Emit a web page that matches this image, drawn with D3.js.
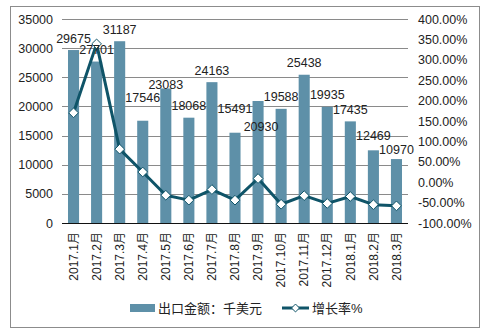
<!DOCTYPE html>
<html><head><meta charset="utf-8">
<script src="https://cdn.jsdelivr.net/npm/d3@7"></script>
<style>
html,body{margin:0;padding:0;background:#fff;}
text{font-family:"Liberation Sans",Arial,"Noto Sans CJK SC",sans-serif;fill:#222;}
</style></head>
<body>
<svg id="c" width="492" height="335"></svg>
<script>
const categories = ["2017.1月","2017.2月","2017.3月","2017.4月","2017.5月","2017.6月","2017.7月","2017.8月","2017.9月","2017.10月","2017.11月","2017.12月","2018.1月","2018.2月","2018.3月"];
const exportValues = [29675,27701,31187,17546,23083,18068,24163,15491,20930,19588,25438,19935,17435,12469,10970];
const growthRates = [170,339,81,25,-32,-44,-18,-44,9,-54,-33,-52,-35,-55,-58];
const leftTicks = [0,5000,10000,15000,20000,25000,30000,35000];
const rightTicks = [-100,-50,0,50,100,150,200,250,300,350,400];
const seriesNames = ["出口金额：千美元","增长率%"];
// manual label nudges (as in the source chart), pixels
const labelNudgeY = [0,0,0,-11,8,0,0,-12,37,0,0,0,0,-3,2];
const labelNudgeX = [0,0,0,0,0,0,0,0,3,0,0,0,0,0,0];

const barColor = "#5e90a8", lineColor = "#0f5468";
const svg = d3.select("#c");
const L = 62, R = 408, T = 19, B = 223;

svg.append("rect").attr("x",10.5).attr("y",6.5).attr("width",469).attr("height",321)
  .attr("fill","none").attr("stroke","#8c8c8c");

const x = d3.scaleBand().domain(categories).range([L,R]).paddingInner(0.52).paddingOuter(0.26);
const y = d3.scaleLinear().domain([0,35000]).range([B,T]);
const y2 = d3.scaleLinear().domain([-100,400]).range([B,T]);

// gridlines
svg.append("g").selectAll("line").data(leftTicks.filter(d=>d>0)).join("line")
  .attr("x1",L).attr("x2",R).attr("y1",d=>Math.round(y(d))+0.5).attr("y2",d=>Math.round(y(d))+0.5)
  .attr("stroke","#8a8a8a").attr("stroke-width",1);

// left axis
const ga = svg.append("g").attr("transform",`translate(${L},0)`)
  .call(d3.axisLeft(y).tickValues(leftTicks).tickSize(0).tickPadding(9).tickFormat(d3.format("d")));
ga.select(".domain").remove();
ga.selectAll("text").style("font-size","12.5px").attr("fill","#222");

// right axis
const gr = svg.append("g").attr("transform",`translate(${R},0)`)
  .call(d3.axisRight(y2).tickValues(rightTicks).tickSize(0).tickPadding(10).tickFormat(d=>d.toFixed(2)+"%"));
gr.select(".domain").remove();
gr.selectAll("text").style("font-size","12.5px").attr("fill","#222");

// bars
svg.append("g").selectAll("rect").data(exportValues).join("rect")
  .attr("x",(d,i)=>x(categories[i])).attr("width",x.bandwidth())
  .attr("y",d=>y(d)).attr("height",d=>B-y(d)).attr("fill",barColor);

// baseline
svg.append("line").attr("x1",L).attr("x2",R).attr("y1",B+0.5).attr("y2",B+0.5).attr("stroke","#111");

// x labels
const gx = svg.append("g").attr("transform",`translate(0,${B})`)
  .call(d3.axisBottom(x).tickSize(0).tickPadding(0));
gx.select(".domain").remove();
gx.selectAll("text").attr("transform","rotate(-90)").attr("text-anchor","end")
  .attr("x",-9).attr("y",0).attr("dy","0.35em").style("font-size","12px").attr("fill","#222");

// line
const cx = i => x(categories[i]) + x.bandwidth()/2;
const line = d3.line().x((d,i)=>cx(i)).y(d=>y2(d));
svg.append("path").datum(growthRates).attr("d",line).attr("fill","none")
  .attr("stroke",lineColor).attr("stroke-width",3).attr("stroke-linejoin","round");
const diamond = d3.symbol().type(d3.symbolDiamond2).size(60);
svg.append("g").selectAll("path").data(growthRates).join("path")
  .attr("d",diamond).attr("transform",(d,i)=>`translate(${cx(i)},${y2(d)})`)
  .attr("fill","#fff").attr("stroke",lineColor).attr("stroke-width",1);

// data labels
svg.append("g").selectAll("text").data(exportValues).join("text")
  .attr("x",(d,i)=>cx(i)+labelNudgeX[i]).attr("y",(d,i)=>y(d)-7.5+labelNudgeY[i]).attr("text-anchor","middle")
  .style("font-size","12.5px").text(d=>d);

// legend
const lg = svg.append("g");
lg.append("rect").attr("x",130).attr("y",304).attr("width",25).attr("height",8).attr("fill",barColor);
lg.append("text").attr("x",158).attr("y",308).attr("dy","0.35em").style("font-size","13px").text(seriesNames[0]);
lg.append("line").attr("x1",282).attr("x2",309).attr("y1",308).attr("y2",308).attr("stroke",lineColor).attr("stroke-width",3);
lg.append("path").attr("d",d3.symbol().type(d3.symbolDiamond2).size(40)).attr("transform","translate(295.5,308)")
  .attr("fill","#fff").attr("stroke",lineColor);
lg.append("text").attr("x",312).attr("y",308).attr("dy","0.35em").style("font-size","13px").text(seriesNames[1]);
</script>
</body></html>
